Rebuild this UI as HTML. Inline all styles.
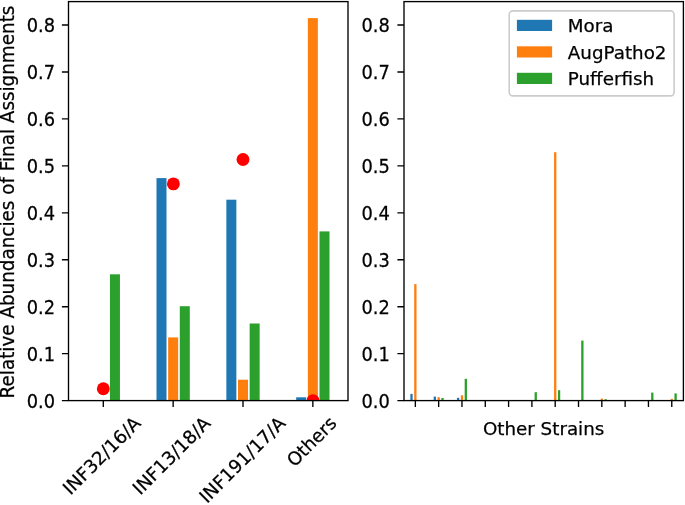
<!DOCTYPE html>
<html><head><meta charset="utf-8"><title>chart</title><style>html,body{margin:0;padding:0;background:#fff}svg{display:block}</style></head><body>
<svg width="685" height="505" viewBox="0 0 685 505" font-family="'DejaVu Sans', 'Liberation Sans', sans-serif" font-size="18.3px" fill="#000"><style>text{stroke:#000;stroke-width:0.25px}</style>
<rect width="685" height="505" fill="#fff"/>
<rect x="109.95" y="274.30" width="10" height="125.70" fill="#2ca02c"/>
<rect x="156.50" y="178.10" width="10" height="221.90" fill="#1f77b4"/>
<rect x="168.15" y="337.40" width="10" height="62.60" fill="#ff7f0e"/>
<rect x="179.80" y="306.20" width="10" height="93.80" fill="#2ca02c"/>
<rect x="226.35" y="199.70" width="10" height="200.30" fill="#1f77b4"/>
<rect x="238.00" y="379.70" width="10" height="20.30" fill="#ff7f0e"/>
<rect x="249.65" y="323.50" width="10" height="76.50" fill="#2ca02c"/>
<rect x="296.20" y="397.30" width="10" height="2.70" fill="#1f77b4"/>
<rect x="307.85" y="18.10" width="10" height="381.90" fill="#ff7f0e"/>
<rect x="319.50" y="231.40" width="10" height="168.60" fill="#2ca02c"/>
<clipPath id="c1"><rect x="68.5" y="1.6" width="279.5" height="399.0"/></clipPath>
<g clip-path="url(#c1)" fill="#ff0000">
<circle cx="103.3" cy="388.7" r="6.45"/>
<circle cx="173.4" cy="183.9" r="6.45"/>
<circle cx="243.0" cy="159.5" r="6.45"/>
<circle cx="313.0" cy="400.6" r="6.45"/>
</g>
<rect x="410.35" y="393.90" width="2.3" height="6.10" fill="#1f77b4"/>
<rect x="414.20" y="284.10" width="2.3" height="115.90" fill="#ff7f0e"/>
<rect x="433.66" y="396.60" width="2.3" height="3.40" fill="#1f77b4"/>
<rect x="437.51" y="397.20" width="2.3" height="2.80" fill="#ff7f0e"/>
<rect x="441.36" y="398.00" width="2.3" height="2.00" fill="#2ca02c"/>
<rect x="456.97" y="397.80" width="2.3" height="2.20" fill="#1f77b4"/>
<rect x="460.82" y="395.30" width="2.3" height="4.70" fill="#ff7f0e"/>
<rect x="464.67" y="378.80" width="2.3" height="21.20" fill="#2ca02c"/>
<rect x="534.60" y="392.20" width="2.3" height="7.80" fill="#2ca02c"/>
<rect x="554.06" y="152.20" width="2.3" height="247.80" fill="#ff7f0e"/>
<rect x="557.91" y="390.20" width="2.3" height="9.80" fill="#2ca02c"/>
<rect x="581.22" y="340.60" width="2.3" height="59.40" fill="#2ca02c"/>
<rect x="600.68" y="398.60" width="2.3" height="1.40" fill="#ff7f0e"/>
<rect x="604.53" y="399.20" width="2.3" height="0.80" fill="#2ca02c"/>
<rect x="651.15" y="392.60" width="2.3" height="7.40" fill="#2ca02c"/>
<rect x="670.61" y="398.90" width="2.3" height="1.10" fill="#ff7f0e"/>
<rect x="674.46" y="393.40" width="2.3" height="6.60" fill="#2ca02c"/>
<rect x="68.5" y="1.6" width="279.50" height="399.00" fill="none" stroke="#000" stroke-width="1.35"/>
<rect x="404.0" y="1.6" width="279.40" height="399.00" fill="none" stroke="#000" stroke-width="1.35"/>
<path d="M61.90 400.60H68.50M61.90 353.65H68.50M61.90 306.70H68.50M61.90 259.75H68.50M61.90 212.80H68.50M61.90 165.85H68.50M61.90 118.90H68.50M61.90 71.95H68.50M61.90 25.00H68.50M397.40 400.60H404.00M397.40 353.65H404.00M397.40 306.70H404.00M397.40 259.75H404.00M397.40 212.80H404.00M397.40 165.85H404.00M397.40 118.90H404.00M397.40 71.95H404.00M397.40 25.00H404.00M103.30 400.60V407.10M173.15 400.60V407.10M243.00 400.60V407.10M312.85 400.60V407.10M415.35 400.60V407.10M438.66 400.60V407.10M461.97 400.60V407.10M485.28 400.60V407.10M508.59 400.60V407.10M531.90 400.60V407.10M555.21 400.60V407.10M578.52 400.60V407.10M601.83 400.60V407.10M625.14 400.60V407.10M648.45 400.60V407.10M671.76 400.60V407.10" stroke="#000" stroke-width="1.35" fill="none"/>
<text transform="translate(55.00 407.70) scale(0.975 1.015)" text-anchor="end">0.0</text>
<text transform="translate(55.00 360.75) scale(0.975 1.015)" text-anchor="end">0.1</text>
<text transform="translate(55.00 313.80) scale(0.975 1.015)" text-anchor="end">0.2</text>
<text transform="translate(55.00 266.85) scale(0.975 1.015)" text-anchor="end">0.3</text>
<text transform="translate(55.00 219.90) scale(0.975 1.015)" text-anchor="end">0.4</text>
<text transform="translate(55.00 172.95) scale(0.975 1.015)" text-anchor="end">0.5</text>
<text transform="translate(55.00 126.00) scale(0.975 1.015)" text-anchor="end">0.6</text>
<text transform="translate(55.00 79.05) scale(0.975 1.015)" text-anchor="end">0.7</text>
<text transform="translate(55.00 32.10) scale(0.975 1.015)" text-anchor="end">0.8</text>
<text transform="translate(389.80 407.70) scale(0.975 1.015)" text-anchor="end">0.0</text>
<text transform="translate(389.80 360.75) scale(0.975 1.015)" text-anchor="end">0.1</text>
<text transform="translate(389.80 313.80) scale(0.975 1.015)" text-anchor="end">0.2</text>
<text transform="translate(389.80 266.85) scale(0.975 1.015)" text-anchor="end">0.3</text>
<text transform="translate(389.80 219.90) scale(0.975 1.015)" text-anchor="end">0.4</text>
<text transform="translate(389.80 172.95) scale(0.975 1.015)" text-anchor="end">0.5</text>
<text transform="translate(389.80 126.00) scale(0.975 1.015)" text-anchor="end">0.6</text>
<text transform="translate(389.80 79.05) scale(0.975 1.015)" text-anchor="end">0.7</text>
<text transform="translate(389.80 32.10) scale(0.975 1.015)" text-anchor="end">0.8</text>
<text transform="translate(14.2 202.0) rotate(-90) scale(1.003 1.025)" text-anchor="middle">Relative Abundancies of Final Assignments</text>
<text x="543.6" y="435" text-anchor="middle">Other Strains</text>
<text transform="translate(106.15 460.05) rotate(-45)" text-anchor="middle">INF32/16/A</text>
<text transform="translate(176.00 460.05) rotate(-45)" text-anchor="middle">INF13/18/A</text>
<text transform="translate(246.75 464.20) rotate(-45)" text-anchor="middle">INF191/17/A</text>
<text transform="translate(316.10 446.10) rotate(-45)" text-anchor="middle">Others</text>
<rect x="509.2" y="10.9" width="164.90" height="85.00" rx="3.6" fill="#fff" fill-opacity="0.8" stroke="#ccc" stroke-width="1.6"/>
<rect x="516.9" y="19.80" width="35.2" height="11.2" fill="#1f77b4"/>
<text x="567.8" y="32.00">Mora</text>
<rect x="516.9" y="46.30" width="35.2" height="11.2" fill="#ff7f0e"/>
<text x="567.8" y="58.55">AugPatho2</text>
<rect x="516.9" y="72.80" width="35.2" height="11.2" fill="#2ca02c"/>
<text x="567.8" y="85.10">Pufferfish</text>
</svg>
</body></html>
